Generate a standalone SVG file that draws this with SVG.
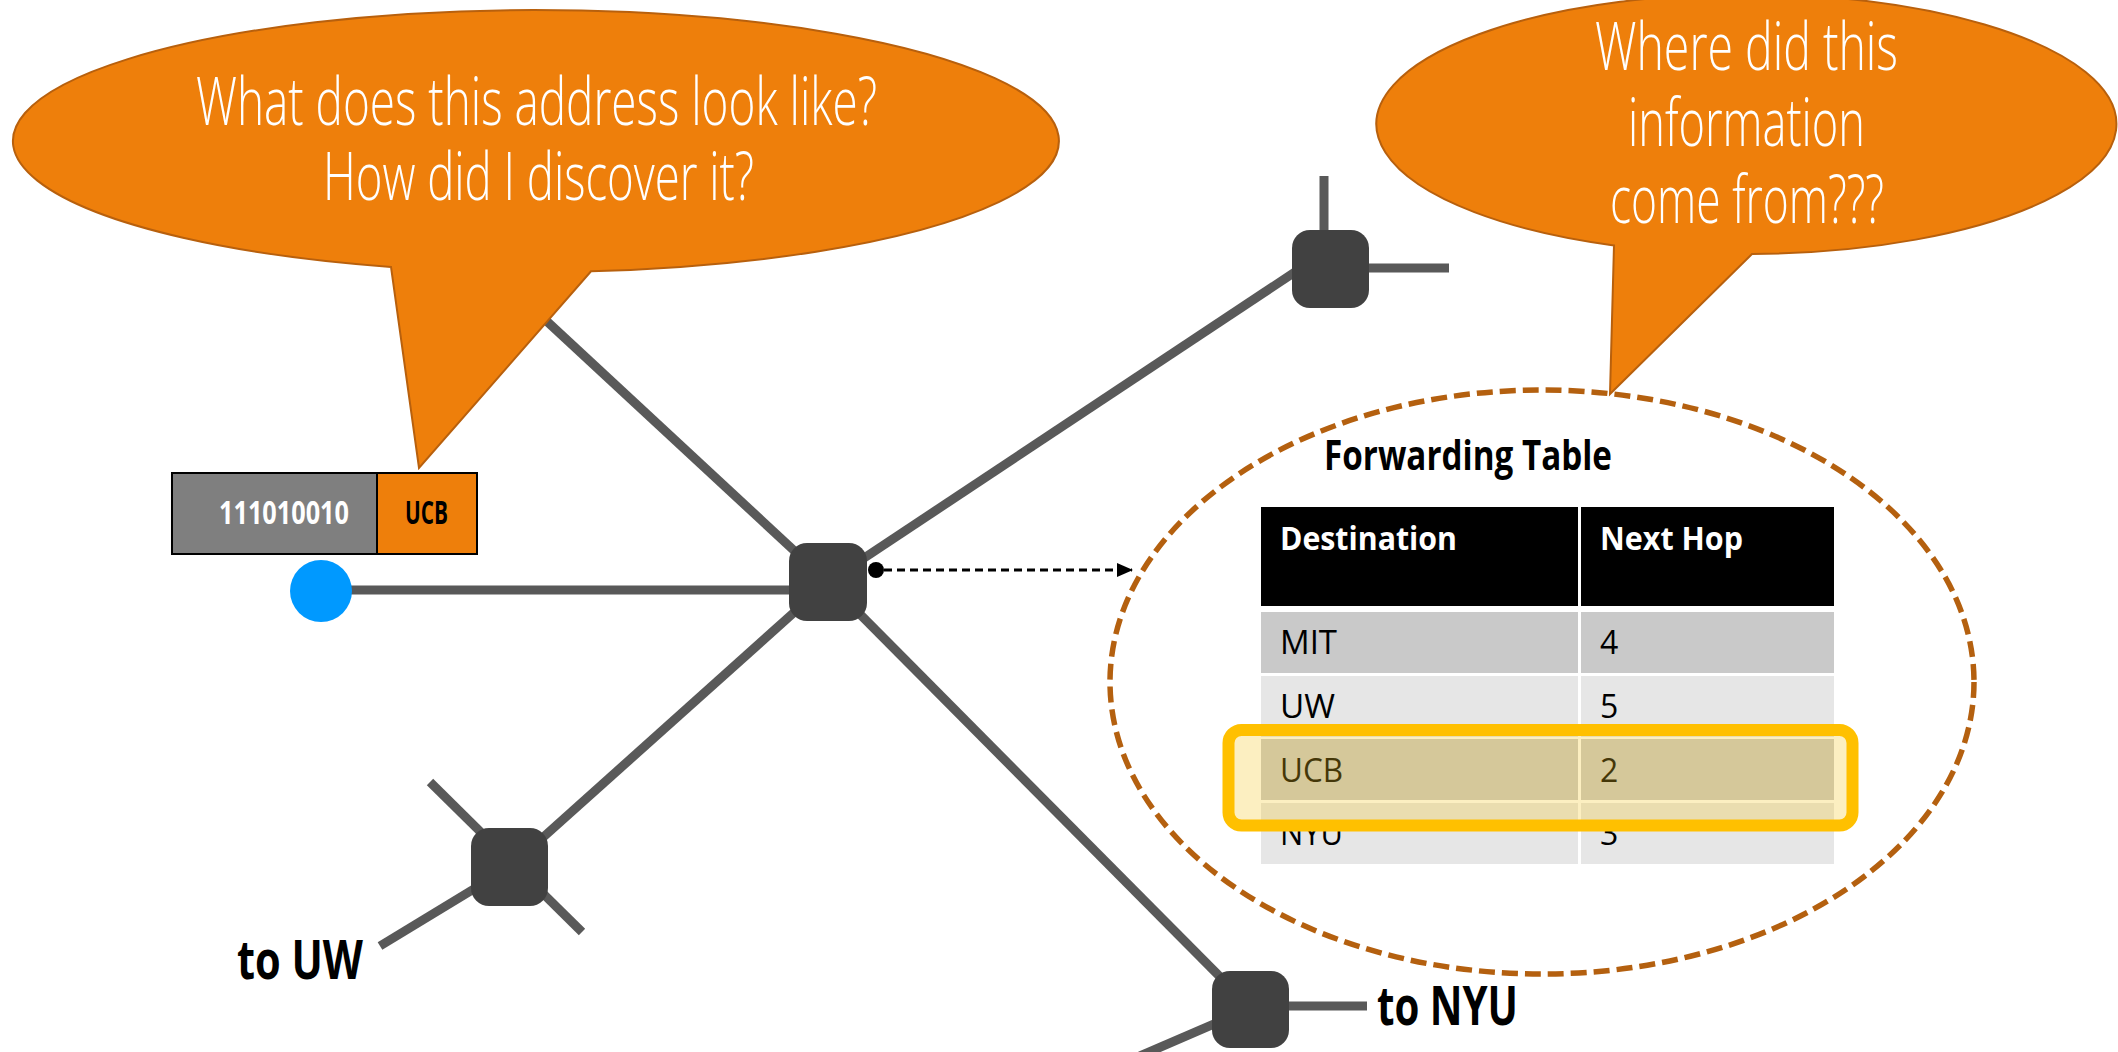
<svg xmlns="http://www.w3.org/2000/svg" width="2118" height="1052" viewBox="0 0 2118 1052">
<defs>
<style>
.link{stroke:#595959;stroke-width:9;fill:none}
.router{fill:#414141}
.bubble{fill:#EE7F0B;stroke:#B8600D;stroke-width:2}
.btxt{font-family:'Open Sans','Liberation Sans',sans-serif;font-weight:300;font-size:66px;fill:#ffffff}
.lbl{font-family:'Open Sans','Liberation Sans',sans-serif;font-weight:700;fill:#000000}
.cell{font-family:'Open Sans','Liberation Sans',sans-serif;font-size:32px;fill:#000000}
.hdr{font-family:'Open Sans','Liberation Sans',sans-serif;font-weight:700;font-size:32px;fill:#ffffff}
</style>
<marker id="arrow" markerWidth="16" markerHeight="14" refX="15" refY="7" orient="auto" markerUnits="userSpaceOnUse">
<path d="M0,0 L16,7 L0,14 Z" fill="#000000"/>
</marker>
</defs>
<rect width="2118" height="1052" fill="#ffffff"/>

<g id="connectors">
<line class="link" x1="321" y1="590" x2="828" y2="590"/>
<line class="link" x1="828" y1="582" x2="470" y2="250"/>
<line class="link" x1="828" y1="582" x2="1310" y2="262"/>
<line class="link" x1="828" y1="582" x2="510" y2="867"/>
<line class="link" x1="828" y1="582" x2="1251" y2="1008"/>
<line class="link" x1="430" y1="782" x2="582" y2="932"/>
<line class="link" x1="380" y1="946" x2="510" y2="867"/>
<line class="link" x1="1324" y1="176" x2="1324" y2="269"/>
<line class="link" x1="1331" y1="268" x2="1449" y2="268"/>
<line class="link" x1="1251" y1="1006" x2="1367" y2="1006"/>
<line class="link" x1="1251" y1="1008" x2="1140" y2="1056"/>
<circle cx="876" cy="570" r="8" fill="#000000"/>
<line x1="884" y1="570" x2="1132" y2="570" stroke="#000000" stroke-width="3" stroke-dasharray="8,5" marker-end="url(#arrow)"/>
</g>

<g id="host">
<circle cx="321" cy="591" r="31" fill="#0099FF"/>
</g>

<g id="packet">
<rect x="172" y="473" width="205" height="81" fill="#7F7F7F" stroke="#000000" stroke-width="2"/>
<rect x="377" y="473" width="100" height="81" fill="#EE7F0B" stroke="#000000" stroke-width="2"/>
<text class="lbl" x="219" y="524" font-size="32" style="fill:#ffffff" textLength="130" lengthAdjust="spacingAndGlyphs">111010010</text>
<text class="lbl" x="405" y="524" font-size="32" textLength="43" lengthAdjust="spacingAndGlyphs">UCB</text>
</g>

<g id="router-center"><rect class="router" x="789" y="543" width="78" height="78" rx="18"/></g>
<g id="router-uw"><rect class="router" x="471" y="828" width="77" height="78" rx="18"/></g>
<g id="router-top"><rect class="router" x="1292" y="230" width="77" height="78" rx="18"/></g>
<g id="router-nyu"><rect class="router" x="1212" y="971" width="77" height="77" rx="18"/></g>

<g id="label-uw"><text class="lbl" x="237" y="979" font-size="53" textLength="126" lengthAdjust="spacingAndGlyphs">to UW</text></g>
<g id="label-nyu"><text class="lbl" x="1377" y="1025" font-size="53" textLength="141" lengthAdjust="spacingAndGlyphs">to NYU</text></g>

<g id="bubble-left">
<path class="bubble" d="M391,266.9 L419,468 L591,271.3 A523,131 0 1 0 391,266.9 Z"/>
<text class="btxt" x="196" y="125" textLength="681" lengthAdjust="spacingAndGlyphs">What does this address look like?</text>
<text class="btxt" x="323" y="200" textLength="431" lengthAdjust="spacingAndGlyphs">How did I discover it?</text>
</g>

<g id="table-area">
<ellipse cx="1542" cy="682" rx="432" ry="292" fill="none" stroke="#B4600F" stroke-width="5.5" stroke-dasharray="16,7"/>
<text class="lbl" x="1324" y="470" font-size="42" textLength="288" lengthAdjust="spacingAndGlyphs">Forwarding Table</text>
<rect x="1261" y="507" width="317" height="99" fill="#000000"/>
<rect x="1581" y="507" width="253" height="99" fill="#000000"/>
<rect x="1261" y="612" width="317" height="61" fill="#C9C9C9"/>
<rect x="1581" y="612" width="253" height="61" fill="#C9C9C9"/>
<rect x="1261" y="676" width="317" height="61" fill="#E6E6E6"/>
<rect x="1581" y="676" width="253" height="61" fill="#E6E6E6"/>
<rect x="1261" y="739" width="317" height="61" fill="#C9C9C9"/>
<rect x="1581" y="739" width="253" height="61" fill="#C9C9C9"/>
<rect x="1261" y="803" width="317" height="61" fill="#E6E6E6"/>
<rect x="1581" y="803" width="253" height="61" fill="#E6E6E6"/>
<text class="hdr" x="1280" y="550" textLength="177" lengthAdjust="spacingAndGlyphs">Destination</text>
<text class="hdr" x="1600" y="550" textLength="143" lengthAdjust="spacingAndGlyphs">Next Hop</text>
<text class="cell" x="1280" y="654" textLength="57" lengthAdjust="spacingAndGlyphs">MIT</text>
<text class="cell" x="1600" y="654">4</text>
<text class="cell" x="1280" y="718" textLength="55" lengthAdjust="spacingAndGlyphs">UW</text>
<text class="cell" x="1600" y="718">5</text>
<text class="cell" x="1280" y="782" textLength="63" lengthAdjust="spacingAndGlyphs">UCB</text>
<text class="cell" x="1600" y="782">2</text>
<text class="cell" x="1280" y="845" textLength="63" lengthAdjust="spacingAndGlyphs">NYU</text>
<text class="cell" x="1600" y="845">3</text>
<rect x="1228.5" y="730" width="624" height="95.5" rx="13" fill="#F4C521" fill-opacity="0.28" stroke="#FFC000" stroke-width="12"/>
</g>

<g id="bubble-right">
<path class="bubble" d="M1614,245.4 L1610,394 L1752,254 A370,130 0 1 0 1614,245.4 Z"/>
<text class="btxt" x="1595" y="70" textLength="303" lengthAdjust="spacingAndGlyphs">Where did this</text>
<text class="btxt" x="1628" y="146" textLength="237" lengthAdjust="spacingAndGlyphs">information</text>
<text class="btxt" x="1610" y="223" textLength="274" lengthAdjust="spacingAndGlyphs">come from???</text>
</g>
</svg>
